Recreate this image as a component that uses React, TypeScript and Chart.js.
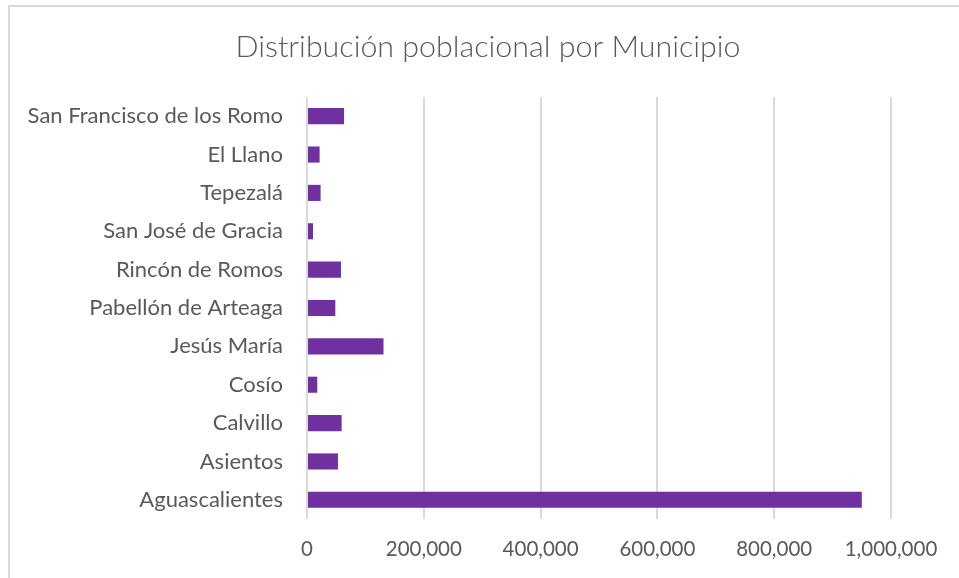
import React, { useEffect, useRef } from "react";
import { Chart, registerables } from "chart.js";

Chart.register(...registerables);

const municipios = [
  "Aguascalientes",
  "Asientos",
  "Calvillo",
  "Cosío",
  "Jesús María",
  "Pabellón de Arteaga",
  "Rincón de Romos",
  "San José de Gracia",
  "Tepezalá",
  "El Llano",
  "San Francisco de los Romo",
];

const poblacion = [950000, 53000, 59300, 17600, 131000, 48500, 58200, 10300, 23300, 21600, 63400];

const xTicks = [0, 200000, 400000, 600000, 800000, 1000000];

const TITLE = "Distribución poblacional por Municipio";
const FONT = "Lato, 'Open Sans', sans-serif";
const TEXT = "#595959";

export default function App() {
  const ref = useRef<HTMLCanvasElement | null>(null);

  useEffect(() => {
    if (!ref.current) return;
    const chart = new Chart(ref.current, {
      type: "bar",
      data: {
        labels: municipios,
        datasets: [
          {
            data: poblacion,
            backgroundColor: "#7030A0",
            borderWidth: 0,
            barPercentage: 0.42,
            categoryPercentage: 1,
          },
        ],
      },
      options: {
        indexAxis: "y",
        responsive: false,
        animation: false,
        layout: { padding: { left: 17, right: 0, top: 0, bottom: 0 } },
        plugins: {
          legend: { display: false },
          tooltip: { enabled: false },
          title: {
            display: true,
            text: TITLE,
            color: TEXT,
            font: { family: FONT, size: 30.4, weight: 300 as any },
            padding: { top: 28.8, bottom: 31.7 },
          },
        },
        scales: {
          x: {
            min: 0,
            max: 1000000,
            afterBuildTicks: (s: any) => {
              s.ticks = xTicks.map((v) => ({ value: v }));
            },
            afterFit: (s: any) => {
              s.height = 59;
              s.paddingRight = 68;
            },
            grid: { color: "#d9d9d9", lineWidth: 2, drawTicks: false },
            border: { display: false },
            ticks: {
              color: TEXT,
              font: { family: FONT, size: 20.5 },
              padding: 18,
              maxRotation: 0,
              callback: (v: any) => Number(v).toLocaleString("en-US"),
            },
          },
          y: {
            reverse: true,
            afterFit: (s: any) => {
              s.width = 290;
            },
            grid: { display: false, drawTicks: false },
            border: { display: false },
            ticks: {
              color: TEXT,
              font: { family: FONT, size: 22 },
              padding: 24,
              autoSkip: false,
            },
          },
        },
      },
    });
    return () => chart.destroy();
  }, []);

  return (
    <div style={{ position: "absolute", left: 0, top: 0, width: 959, height: 578, overflow: "hidden", background: "#fff" }}>
      <div
        style={{
          position: "absolute",
          left: 8,
          top: 5,
          width: 1000,
          height: 700,
          borderLeft: "2px solid #d9d9d9",
          borderTop: "2px solid #d9d9d9",
        }}
      />
      <canvas ref={ref} width={959} height={578} style={{ position: "absolute", left: 0, top: 0 }} />
    </div>
  );
}
